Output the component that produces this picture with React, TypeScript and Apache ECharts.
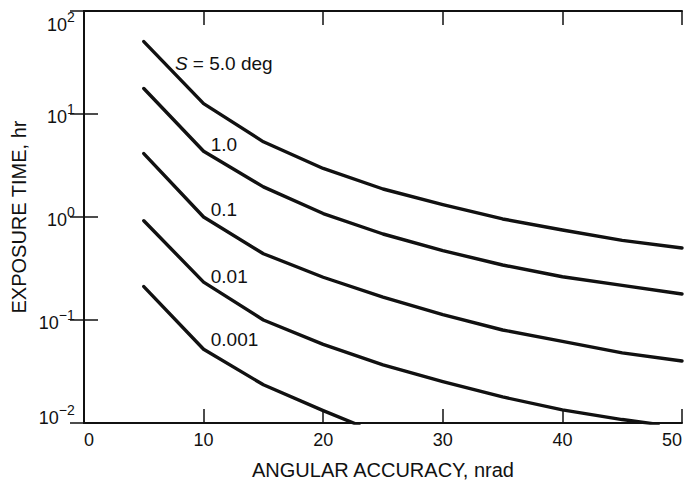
import React, { useEffect, useRef } from "react";
import * as echarts from "echarts";

const FONT = '"Liberation Sans", Arial, Helvetica, sans-serif';
const INK = "#111111";

// Angular accuracy, nrad (x)
const accuracy = [5, 10, 15, 20, 25, 30, 35, 40, 45, 50];
const accuracyS001 = [5, 10, 15, 20, 25, 30, 35, 40, 45, 48];
const accuracyS0001 = [5, 10, 15, 20, 23];

// Exposure time, hr (y) for each S
const timeS5 = [50.5, 12.6, 5.37, 2.96, 1.87, 1.32, 0.957, 0.748, 0.593, 0.5];
const timeS1 = [17.7, 4.35, 1.96, 1.08, 0.684, 0.472, 0.342, 0.263, 0.217, 0.179];
const timeS01 = [4.13, 1.0, 0.44, 0.26, 0.167, 0.113, 0.08, 0.062, 0.048, 0.04];
const timeS001 = [0.92, 0.233, 0.1, 0.058, 0.0366, 0.0252, 0.0179, 0.0134, 0.0108, 0.0097];
const timeS0001 = [0.211, 0.052, 0.0235, 0.0132, 0.0095];

const curveNames = ["5.0", "1.0", "0.1", "0.01", "0.001"];
const curveLabels = ["{i|S} = 5.0 deg", "1.0", "0.1", "0.01", "0.001"];
const labelAnchors: [number, number][] = [
  [7.6, 30.6],
  [10.6, 5.08],
  [10.6, 1.19],
  [10.6, 0.265],
  [10.6, 0.065],
];

const xTicks = { min: 0, max: 50, interval: 10 };
const yRange = { min: 0.01, max: 100 };

function zip(xs: number[], ys: number[]) {
  return xs.map((x, i) => [x, ys[i]]);
}

export default function App() {
  const ref = useRef<HTMLDivElement>(null);
  useEffect(() => {
    if (!ref.current) return;
    const chart = echarts.init(ref.current, undefined, { renderer: "svg" });
    const curves = [
      zip(accuracy, timeS5),
      zip(accuracy, timeS1),
      zip(accuracy, timeS01),
      zip(accuracyS001, timeS001),
      zip(accuracyS0001, timeS0001),
    ];
    const axisLine = { show: true, lineStyle: { color: INK, width: 2 } };
    const tick = { show: true, inside: true, length: 14, lineStyle: { color: INK, width: 1.5 } };
    const b = { fontSize: 18, fontFamily: FONT, color: INK, lineHeight: 18, verticalAlign: "bottom" };
    const s = { fontSize: 14, fontFamily: FONT, color: INK, lineHeight: 14, verticalAlign: "top" };
    const sp = { fontSize: 1, fontFamily: FONT, color: "rgba(0,0,0,0)" };
    chart.setOption({
      animation: false,
      backgroundColor: "#ffffff",
      textStyle: { fontFamily: FONT },
      grid: {
        left: 84,
        right: 4,
        top: 11,
        bottom: 59,
        containLabel: false,
        outerBoundsMode: "none",
      },
      xAxis: [
        {
          type: "value",
          position: "bottom",
          ...xTicks,
          axisLine,
          axisTick: tick,
          splitLine: { show: false },
          axisLabel: {
            color: INK,
            fontSize: 18,
            fontFamily: FONT,
            margin: 8,
            alignMinLabel: "left",
            alignMaxLabel: "right",
          },
          name: "ANGULAR ACCURACY, nrad",
          nameLocation: "middle",
          nameGap: 37,
          nameMoveOverlap: false,
          nameTextStyle: { color: INK, fontSize: 20, fontFamily: FONT },
        },
        {
          type: "value",
          position: "top",
          ...xTicks,
          axisLine,
          axisTick: tick,
          splitLine: { show: false },
          axisLabel: { show: false },
        },
      ],
      yAxis: [
        {
          type: "log",
          logBase: 10,
          position: "left",
          ...yRange,
          axisLine,
          axisTick: tick,
          minorTick: { show: false },
          splitLine: { show: false },
          axisLabel: {
            margin: 9,
            formatter: (v: number) => {
              const e = Math.round(Math.log10(v));
              const es = e < 0 ? "\u2212" + -e : String(e);
              const core = `{b|10}{s|${es}}{sp| }`;
              if (e === 2) return `{spt| }\n${core}`;
              if (e === -2) return `${core}\n{spb| }`;
              return core;
            },
            rich: {
              b,
              s,
              sp: { ...sp, lineHeight: 24 },
              spt: { ...sp, lineHeight: 21 },
              spb: { ...sp, lineHeight: 16 },
            },
          },
          name: "EXPOSURE TIME, hr",
          nameLocation: "middle",
          nameGap: 55,
          nameRotate: 90,
          nameMoveOverlap: false,
          nameTextStyle: { color: INK, fontSize: 20, fontFamily: FONT },
        },
        {
          type: "log",
          logBase: 10,
          position: "right",
          ...yRange,
          axisLine,
          axisTick: tick,
          splitLine: { show: false },
          axisLabel: { show: false },
        },
      ],
      series: curves.map((data, i) => ({
        name: curveNames[i],
        type: "line",
        data,
        xAxisIndex: 0,
        yAxisIndex: 0,
        symbol: "none",
        showSymbol: false,
        clip: true,
        lineStyle: { color: INK, width: 3.4, join: "round", cap: "round" },
        markPoint: {
          symbol: "circle",
          symbolSize: 0,
          silent: true,
          data: [{ coord: labelAnchors[i] }],
          label: {
            show: true,
            position: "right",
            distance: 0,
            formatter: curveLabels[i],
            color: INK,
            fontSize: 19,
            fontFamily: FONT,
            rich: {
              i: { fontStyle: "italic", fontSize: 19, fontFamily: FONT, color: INK },
            },
          },
        },
      })),
    });
    return () => chart.dispose();
  }, []);
  return (
    <div
      ref={ref}
      style={{ position: "absolute", left: 0, top: 0, width: 686, height: 482, background: "#fff" }}
    />
  );
}
